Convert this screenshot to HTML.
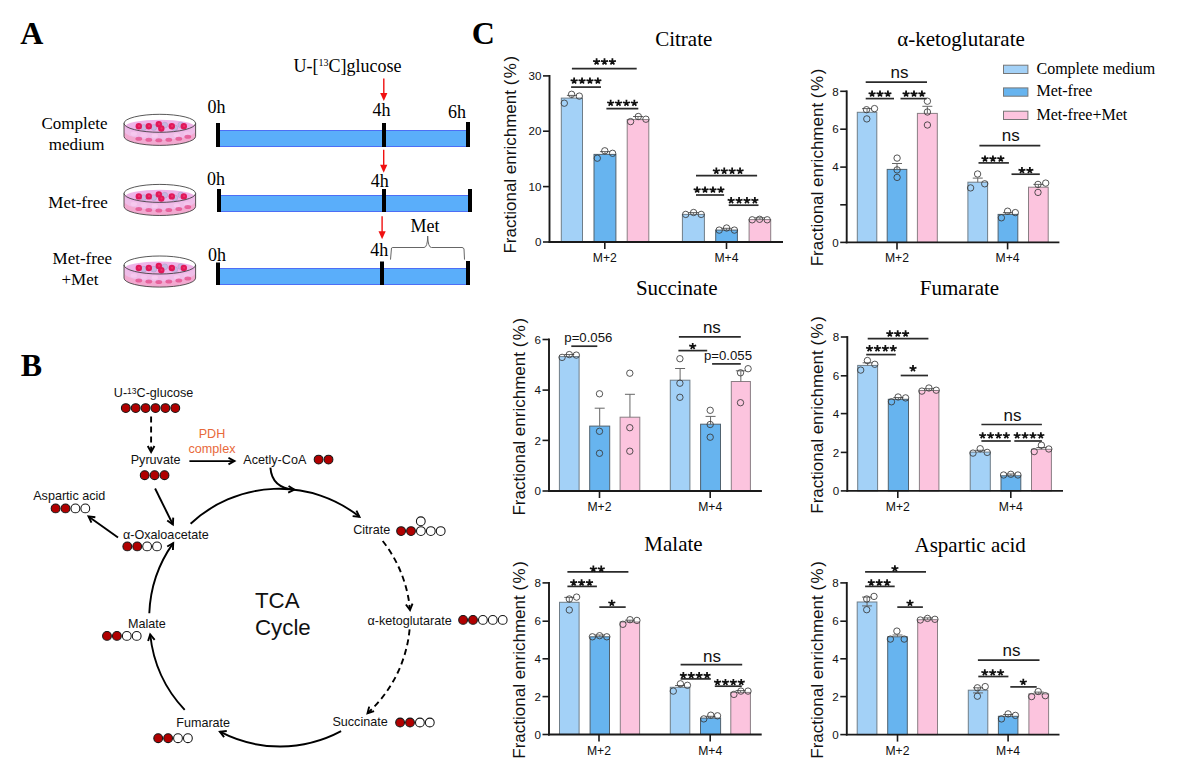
<!DOCTYPE html>
<html><head><meta charset="utf-8"><style>
html,body{margin:0;padding:0;background:#fff;}
body{width:1186px;height:783px;overflow:hidden;}
svg{display:block;}
</style></head><body>
<svg width="1186" height="783" viewBox="0 0 1186 783">
<rect width="1186" height="783" fill="#fff"/>
<text x="20.30" y="44.00" font-family="Liberation Serif" font-size="32" text-anchor="start" fill="#000" font-weight="bold">A</text>
<text x="20.80" y="375.80" font-family="Liberation Serif" font-size="32" text-anchor="start" fill="#000" font-weight="bold">B</text>
<text x="471.80" y="44.00" font-family="Liberation Serif" font-size="32" text-anchor="start" fill="#000" font-weight="bold">C</text>
<rect x="220" y="130" width="246" height="17" fill="#5aaefa"/>
<line x1="220" y1="130.5" x2="466" y2="130.5" stroke="#4d6ef5" stroke-width="1"/>
<line x1="220" y1="146.5" x2="466" y2="146.5" stroke="#4d6ef5" stroke-width="1"/>
<rect x="216" y="123" width="4" height="24" fill="#000"/>
<rect x="382" y="123" width="4" height="24" fill="#000"/>
<rect x="466" y="122" width="4" height="25" fill="#000"/>
<rect x="221" y="195" width="247" height="17" fill="#5aaefa"/>
<line x1="221" y1="195.5" x2="468" y2="195.5" stroke="#4d6ef5" stroke-width="1"/>
<line x1="221" y1="211.5" x2="468" y2="211.5" stroke="#4d6ef5" stroke-width="1"/>
<rect x="217" y="189" width="4" height="23" fill="#000"/>
<rect x="382" y="189" width="4" height="23" fill="#000"/>
<rect x="468" y="189" width="4" height="23" fill="#000"/>
<rect x="220" y="268" width="246" height="17" fill="#5aaefa"/>
<line x1="220" y1="268.5" x2="466" y2="268.5" stroke="#4d6ef5" stroke-width="1"/>
<line x1="220" y1="284.5" x2="466" y2="284.5" stroke="#4d6ef5" stroke-width="1"/>
<rect x="216" y="262.5" width="4" height="22.5" fill="#000"/>
<rect x="380" y="261.5" width="4" height="23.5" fill="#000"/>
<rect x="466" y="261" width="4" height="24" fill="#000"/>
<text x="207.50" y="112.60" font-family="Liberation Serif" font-size="18" text-anchor="start" fill="#000" >0h</text>
<text x="372.50" y="116.40" font-family="Liberation Serif" font-size="18" text-anchor="start" fill="#000" >4h</text>
<text x="448.00" y="118.40" font-family="Liberation Serif" font-size="18" text-anchor="start" fill="#000" >6h</text>
<text x="207.00" y="184.80" font-family="Liberation Serif" font-size="18" text-anchor="start" fill="#000" >0h</text>
<text x="370.70" y="186.80" font-family="Liberation Serif" font-size="18" text-anchor="start" fill="#000" >4h</text>
<text x="208.00" y="261.30" font-family="Liberation Serif" font-size="18" text-anchor="start" fill="#000" >0h</text>
<text x="370.20" y="255.70" font-family="Liberation Serif" font-size="18" text-anchor="start" fill="#000" >4h</text>
<text x="410.50" y="232.20" font-family="Liberation Serif" font-size="18" text-anchor="start" fill="#000" >Met</text>
<text x="293.5" y="71.7" font-family="Liberation Serif" font-size="18">U-[<tspan font-size="10" dy="-6">13</tspan><tspan dy="6">C]glucose</tspan></text>
<line x1="383.8" y1="78.4" x2="383.8" y2="95.1" stroke="#f01010" stroke-width="1.4"/>
<path d="M380.2,93.1 L387.40000000000003,93.1 L383.8,101.1 Z" fill="#f01010"/>
<line x1="383.7" y1="149.8" x2="383.7" y2="166.8" stroke="#f01010" stroke-width="1.4"/>
<path d="M380.09999999999997,164.8 L387.3,164.8 L383.7,172.8 Z" fill="#f01010"/>
<line x1="382.1" y1="216.3" x2="382.1" y2="233.3" stroke="#f01010" stroke-width="1.4"/>
<path d="M378.5,231.3 L385.70000000000005,231.3 L382.1,239.3 Z" fill="#f01010"/>
<path d="M390.5,259.6 L391.5,248 Q392,247.5 393,247.5 L424,247.5 Q427.5,247.5 427.7,236 Q428,247.5 431.5,247.5 L462,247.5 Q463.5,247.5 464,249 L464.5,259.6" fill="none" stroke="#666" stroke-width="1"/>
<text x="74.60" y="129.40" font-family="Liberation Serif" font-size="17" text-anchor="middle" fill="#000" >Complete</text>
<text x="76.60" y="149.70" font-family="Liberation Serif" font-size="17" text-anchor="middle" fill="#000" >medium</text>
<text x="78.00" y="208.40" font-family="Liberation Serif" font-size="17" text-anchor="middle" fill="#000" >Met-free</text>
<text x="82.30" y="264.00" font-family="Liberation Serif" font-size="17" text-anchor="middle" fill="#000" >Met-free</text>
<text x="80.00" y="284.80" font-family="Liberation Serif" font-size="17" text-anchor="middle" fill="#000" >+Met</text>
<path d="M124.00000000000001,125.3 L124.00000000000001,136.4 A35.8,9 0 0 0 195.60000000000002,136.4 L195.60000000000002,125.3 Z" fill="#f2a9d0"/>
<path d="M124.50000000000001,126.3 L124.50000000000001,132.3 A35.8,9 0 0 0 195.10000000000002,132.3 L195.10000000000002,126.3 Z" fill="#efbde8"/>
<ellipse cx="159.8" cy="126.5" rx="34.8" ry="6.8" fill="#eeb4e8"/>
<ellipse cx="133.8" cy="133.8" rx="3.2" ry="2" fill="#f6c8ee"/>
<ellipse cx="143.8" cy="135.3" rx="3.2" ry="2" fill="#f4c4ec"/>
<ellipse cx="154.8" cy="135.8" rx="3.2" ry="2" fill="#f6caee"/>
<ellipse cx="165.8" cy="135.8" rx="3.2" ry="2" fill="#f2c0ea"/>
<ellipse cx="176.8" cy="135.3" rx="3.2" ry="2" fill="#f6c8ee"/>
<ellipse cx="186.8" cy="133.8" rx="3.2" ry="2" fill="#f4c4ec"/>
<ellipse cx="138.8" cy="138.8" rx="3.4" ry="2.0" fill="#e4508f" opacity="0.8"/>
<ellipse cx="148.8" cy="139.8" rx="3.4" ry="2.0" fill="#e4508f" opacity="0.8"/>
<ellipse cx="158.8" cy="140.3" rx="3.4" ry="2.0" fill="#e4508f" opacity="0.8"/>
<ellipse cx="168.8" cy="139.8" rx="3.4" ry="2.0" fill="#e4508f" opacity="0.8"/>
<ellipse cx="178.8" cy="138.8" rx="3.4" ry="2.0" fill="#e4508f" opacity="0.8"/>
<ellipse cx="187.8" cy="136.8" rx="3.4" ry="2.0" fill="#e4508f" opacity="0.8"/>
<circle cx="143.8" cy="127.5" r="2.9" fill="#c6b6e0" stroke="#a898c8" stroke-width="0.5"/>
<circle cx="153.8" cy="127.5" r="2.9" fill="#c6b6e0" stroke="#a898c8" stroke-width="0.5"/>
<circle cx="164.8" cy="125.1" r="2.9" fill="#c6b6e0" stroke="#a898c8" stroke-width="0.5"/>
<circle cx="174.8" cy="127.89999999999999" r="2.9" fill="#c6b6e0" stroke="#a898c8" stroke-width="0.5"/>
<circle cx="180.8" cy="124.89999999999999" r="2.9" fill="#c6b6e0" stroke="#a898c8" stroke-width="0.5"/>
<circle cx="138.8" cy="126.3" r="3.2" fill="#e0185a"/>
<circle cx="139.10000000000002" cy="126.1" r="1.1" fill="#f0306a"/>
<circle cx="148.8" cy="126.3" r="3.2" fill="#e0185a"/>
<circle cx="149.10000000000002" cy="126.1" r="1.1" fill="#f0306a"/>
<circle cx="158.8" cy="124.3" r="3.2" fill="#e0185a"/>
<circle cx="159.10000000000002" cy="124.1" r="1.1" fill="#f0306a"/>
<circle cx="161.3" cy="128.5" r="3.2" fill="#e0185a"/>
<circle cx="161.60000000000002" cy="128.3" r="1.1" fill="#f0306a"/>
<circle cx="171.8" cy="126.3" r="3.2" fill="#e0185a"/>
<circle cx="172.10000000000002" cy="126.1" r="1.1" fill="#f0306a"/>
<circle cx="183.8" cy="126.3" r="3.2" fill="#e0185a"/>
<circle cx="184.10000000000002" cy="126.1" r="1.1" fill="#f0306a"/>
<ellipse cx="159.8" cy="123.3" rx="35.8" ry="9" fill="none" stroke="#3a3a3a" stroke-width="0.85"/>
<path d="M124.00000000000001,123.3 L124.00000000000001,136.4 A35.8,9 0 0 0 195.60000000000002,136.4 L195.60000000000002,123.3" fill="none" stroke="#3a3a3a" stroke-width="0.85"/>
<path d="M124.00000000000001,195.4 L124.00000000000001,206.5 A35.8,9 0 0 0 195.60000000000002,206.5 L195.60000000000002,195.4 Z" fill="#f2a9d0"/>
<path d="M124.50000000000001,196.4 L124.50000000000001,202.4 A35.8,9 0 0 0 195.10000000000002,202.4 L195.10000000000002,196.4 Z" fill="#efbde8"/>
<ellipse cx="159.8" cy="196.6" rx="34.8" ry="6.8" fill="#eeb4e8"/>
<ellipse cx="133.8" cy="203.9" rx="3.2" ry="2" fill="#f6c8ee"/>
<ellipse cx="143.8" cy="205.4" rx="3.2" ry="2" fill="#f4c4ec"/>
<ellipse cx="154.8" cy="205.9" rx="3.2" ry="2" fill="#f6caee"/>
<ellipse cx="165.8" cy="205.9" rx="3.2" ry="2" fill="#f2c0ea"/>
<ellipse cx="176.8" cy="205.4" rx="3.2" ry="2" fill="#f6c8ee"/>
<ellipse cx="186.8" cy="203.9" rx="3.2" ry="2" fill="#f4c4ec"/>
<ellipse cx="138.8" cy="208.9" rx="3.4" ry="2.0" fill="#e4508f" opacity="0.8"/>
<ellipse cx="148.8" cy="209.9" rx="3.4" ry="2.0" fill="#e4508f" opacity="0.8"/>
<ellipse cx="158.8" cy="210.4" rx="3.4" ry="2.0" fill="#e4508f" opacity="0.8"/>
<ellipse cx="168.8" cy="209.9" rx="3.4" ry="2.0" fill="#e4508f" opacity="0.8"/>
<ellipse cx="178.8" cy="208.9" rx="3.4" ry="2.0" fill="#e4508f" opacity="0.8"/>
<ellipse cx="187.8" cy="206.9" rx="3.4" ry="2.0" fill="#e4508f" opacity="0.8"/>
<circle cx="143.8" cy="197.6" r="2.9" fill="#c6b6e0" stroke="#a898c8" stroke-width="0.5"/>
<circle cx="153.8" cy="197.6" r="2.9" fill="#c6b6e0" stroke="#a898c8" stroke-width="0.5"/>
<circle cx="164.8" cy="195.20000000000002" r="2.9" fill="#c6b6e0" stroke="#a898c8" stroke-width="0.5"/>
<circle cx="174.8" cy="198.0" r="2.9" fill="#c6b6e0" stroke="#a898c8" stroke-width="0.5"/>
<circle cx="180.8" cy="195.0" r="2.9" fill="#c6b6e0" stroke="#a898c8" stroke-width="0.5"/>
<circle cx="138.8" cy="196.4" r="3.2" fill="#e0185a"/>
<circle cx="139.10000000000002" cy="196.20000000000002" r="1.1" fill="#f0306a"/>
<circle cx="148.8" cy="196.4" r="3.2" fill="#e0185a"/>
<circle cx="149.10000000000002" cy="196.20000000000002" r="1.1" fill="#f0306a"/>
<circle cx="158.8" cy="194.4" r="3.2" fill="#e0185a"/>
<circle cx="159.10000000000002" cy="194.20000000000002" r="1.1" fill="#f0306a"/>
<circle cx="161.3" cy="198.6" r="3.2" fill="#e0185a"/>
<circle cx="161.60000000000002" cy="198.4" r="1.1" fill="#f0306a"/>
<circle cx="171.8" cy="196.4" r="3.2" fill="#e0185a"/>
<circle cx="172.10000000000002" cy="196.20000000000002" r="1.1" fill="#f0306a"/>
<circle cx="183.8" cy="196.4" r="3.2" fill="#e0185a"/>
<circle cx="184.10000000000002" cy="196.20000000000002" r="1.1" fill="#f0306a"/>
<ellipse cx="159.8" cy="193.4" rx="35.8" ry="9" fill="none" stroke="#3a3a3a" stroke-width="0.85"/>
<path d="M124.00000000000001,193.4 L124.00000000000001,206.5 A35.8,9 0 0 0 195.60000000000002,206.5 L195.60000000000002,193.4" fill="none" stroke="#3a3a3a" stroke-width="0.85"/>
<path d="M124.00000000000001,267.0 L124.00000000000001,278.1 A35.8,9 0 0 0 195.60000000000002,278.1 L195.60000000000002,267.0 Z" fill="#f2a9d0"/>
<path d="M124.50000000000001,268.0 L124.50000000000001,274.0 A35.8,9 0 0 0 195.10000000000002,274.0 L195.10000000000002,268.0 Z" fill="#efbde8"/>
<ellipse cx="159.8" cy="268.2" rx="34.8" ry="6.8" fill="#eeb4e8"/>
<ellipse cx="133.8" cy="275.5" rx="3.2" ry="2" fill="#f6c8ee"/>
<ellipse cx="143.8" cy="277.0" rx="3.2" ry="2" fill="#f4c4ec"/>
<ellipse cx="154.8" cy="277.5" rx="3.2" ry="2" fill="#f6caee"/>
<ellipse cx="165.8" cy="277.5" rx="3.2" ry="2" fill="#f2c0ea"/>
<ellipse cx="176.8" cy="277.0" rx="3.2" ry="2" fill="#f6c8ee"/>
<ellipse cx="186.8" cy="275.5" rx="3.2" ry="2" fill="#f4c4ec"/>
<ellipse cx="138.8" cy="280.5" rx="3.4" ry="2.0" fill="#e4508f" opacity="0.8"/>
<ellipse cx="148.8" cy="281.5" rx="3.4" ry="2.0" fill="#e4508f" opacity="0.8"/>
<ellipse cx="158.8" cy="282.0" rx="3.4" ry="2.0" fill="#e4508f" opacity="0.8"/>
<ellipse cx="168.8" cy="281.5" rx="3.4" ry="2.0" fill="#e4508f" opacity="0.8"/>
<ellipse cx="178.8" cy="280.5" rx="3.4" ry="2.0" fill="#e4508f" opacity="0.8"/>
<ellipse cx="187.8" cy="278.5" rx="3.4" ry="2.0" fill="#e4508f" opacity="0.8"/>
<circle cx="143.8" cy="269.2" r="2.9" fill="#c6b6e0" stroke="#a898c8" stroke-width="0.5"/>
<circle cx="153.8" cy="269.2" r="2.9" fill="#c6b6e0" stroke="#a898c8" stroke-width="0.5"/>
<circle cx="164.8" cy="266.8" r="2.9" fill="#c6b6e0" stroke="#a898c8" stroke-width="0.5"/>
<circle cx="174.8" cy="269.6" r="2.9" fill="#c6b6e0" stroke="#a898c8" stroke-width="0.5"/>
<circle cx="180.8" cy="266.6" r="2.9" fill="#c6b6e0" stroke="#a898c8" stroke-width="0.5"/>
<circle cx="138.8" cy="268.0" r="3.2" fill="#e0185a"/>
<circle cx="139.10000000000002" cy="267.8" r="1.1" fill="#f0306a"/>
<circle cx="148.8" cy="268.0" r="3.2" fill="#e0185a"/>
<circle cx="149.10000000000002" cy="267.8" r="1.1" fill="#f0306a"/>
<circle cx="158.8" cy="266.0" r="3.2" fill="#e0185a"/>
<circle cx="159.10000000000002" cy="265.8" r="1.1" fill="#f0306a"/>
<circle cx="161.3" cy="270.2" r="3.2" fill="#e0185a"/>
<circle cx="161.60000000000002" cy="270.0" r="1.1" fill="#f0306a"/>
<circle cx="171.8" cy="268.0" r="3.2" fill="#e0185a"/>
<circle cx="172.10000000000002" cy="267.8" r="1.1" fill="#f0306a"/>
<circle cx="183.8" cy="268.0" r="3.2" fill="#e0185a"/>
<circle cx="184.10000000000002" cy="267.8" r="1.1" fill="#f0306a"/>
<ellipse cx="159.8" cy="265.0" rx="35.8" ry="9" fill="none" stroke="#3a3a3a" stroke-width="0.85"/>
<path d="M124.00000000000001,265.0 L124.00000000000001,278.1 A35.8,9 0 0 0 195.60000000000002,278.1 L195.60000000000002,265.0" fill="none" stroke="#3a3a3a" stroke-width="0.85"/>
<text x="113.8" y="397.2" font-family="Liberation Sans" font-size="12.6" fill="#111">U-<tspan font-size="8.5" dy="-3.5">13</tspan><tspan dy="3.5">C-glucose</tspan></text>
<circle cx="125.80" cy="408.1" r="4.4" fill="#b00000" stroke="#151515" stroke-width="1.05"/>
<circle cx="135.70" cy="408.1" r="4.4" fill="#b00000" stroke="#151515" stroke-width="1.05"/>
<circle cx="145.60" cy="408.1" r="4.4" fill="#b00000" stroke="#151515" stroke-width="1.05"/>
<circle cx="155.50" cy="408.1" r="4.4" fill="#b00000" stroke="#151515" stroke-width="1.05"/>
<circle cx="165.40" cy="408.1" r="4.4" fill="#b00000" stroke="#151515" stroke-width="1.05"/>
<circle cx="175.30" cy="408.1" r="4.4" fill="#b00000" stroke="#151515" stroke-width="1.05"/>
<text x="130.70" y="464.30" font-family="Liberation Sans" font-size="12.6" text-anchor="start" fill="#111" >Pyruvate</text>
<circle cx="144.70" cy="475.2" r="4.4" fill="#b00000" stroke="#151515" stroke-width="1.05"/>
<circle cx="154.60" cy="475.2" r="4.4" fill="#b00000" stroke="#151515" stroke-width="1.05"/>
<circle cx="164.50" cy="475.2" r="4.4" fill="#b00000" stroke="#151515" stroke-width="1.05"/>
<text x="212.00" y="437.50" font-family="Liberation Sans" font-size="12.6" text-anchor="middle" fill="#e8693a" >PDH</text>
<text x="212.00" y="452.80" font-family="Liberation Sans" font-size="12.6" text-anchor="middle" fill="#e8693a" >complex</text>
<text x="243.30" y="463.50" font-family="Liberation Sans" font-size="12.6" text-anchor="start" fill="#111" >Acetly-CoA</text>
<circle cx="318.60" cy="459.6" r="4.4" fill="#b00000" stroke="#151515" stroke-width="1.05"/>
<circle cx="328.50" cy="459.6" r="4.4" fill="#b00000" stroke="#151515" stroke-width="1.05"/>
<text x="353.20" y="534.30" font-family="Liberation Sans" font-size="12.6" text-anchor="start" fill="#111" >Citrate</text>
<circle cx="401.10" cy="531.1" r="4.4" fill="#b00000" stroke="#151515" stroke-width="1.05"/>
<circle cx="411.00" cy="531.1" r="4.4" fill="#b00000" stroke="#151515" stroke-width="1.05"/>
<circle cx="420.90" cy="531.1" r="4.4" fill="#fff" stroke="#151515" stroke-width="1.05"/>
<circle cx="430.80" cy="531.1" r="4.4" fill="#fff" stroke="#151515" stroke-width="1.05"/>
<circle cx="440.70" cy="531.1" r="4.4" fill="#fff" stroke="#151515" stroke-width="1.05"/>
<circle cx="420.8" cy="521.3" r="4.4" fill="#fff" stroke="#151515" stroke-width="1.05"/>
<text x="367.50" y="624.80" font-family="Liberation Sans" font-size="12.6" text-anchor="start" fill="#111" >α-ketoglutarate</text>
<circle cx="463.10" cy="619.9" r="4.4" fill="#b00000" stroke="#151515" stroke-width="1.05"/>
<circle cx="473.00" cy="619.9" r="4.4" fill="#b00000" stroke="#151515" stroke-width="1.05"/>
<circle cx="482.90" cy="619.9" r="4.4" fill="#fff" stroke="#151515" stroke-width="1.05"/>
<circle cx="492.80" cy="619.9" r="4.4" fill="#fff" stroke="#151515" stroke-width="1.05"/>
<circle cx="502.70" cy="619.9" r="4.4" fill="#fff" stroke="#151515" stroke-width="1.05"/>
<text x="332.40" y="726.40" font-family="Liberation Sans" font-size="12.6" text-anchor="start" fill="#111" >Succinate</text>
<circle cx="400.10" cy="722.5" r="4.4" fill="#b00000" stroke="#151515" stroke-width="1.05"/>
<circle cx="410.00" cy="722.5" r="4.4" fill="#b00000" stroke="#151515" stroke-width="1.05"/>
<circle cx="419.90" cy="722.5" r="4.4" fill="#fff" stroke="#151515" stroke-width="1.05"/>
<circle cx="429.80" cy="722.5" r="4.4" fill="#fff" stroke="#151515" stroke-width="1.05"/>
<text x="176.20" y="727.10" font-family="Liberation Sans" font-size="12.6" text-anchor="start" fill="#111" >Fumarate</text>
<circle cx="158.20" cy="738.2" r="4.4" fill="#b00000" stroke="#151515" stroke-width="1.05"/>
<circle cx="168.10" cy="738.2" r="4.4" fill="#b00000" stroke="#151515" stroke-width="1.05"/>
<circle cx="178.00" cy="738.2" r="4.4" fill="#fff" stroke="#151515" stroke-width="1.05"/>
<circle cx="187.90" cy="738.2" r="4.4" fill="#fff" stroke="#151515" stroke-width="1.05"/>
<text x="127.90" y="627.80" font-family="Liberation Sans" font-size="12.6" text-anchor="start" fill="#111" >Malate</text>
<circle cx="107.00" cy="635.9" r="4.4" fill="#b00000" stroke="#151515" stroke-width="1.05"/>
<circle cx="116.90" cy="635.9" r="4.4" fill="#b00000" stroke="#151515" stroke-width="1.05"/>
<circle cx="126.80" cy="635.9" r="4.4" fill="#fff" stroke="#151515" stroke-width="1.05"/>
<circle cx="136.70" cy="635.9" r="4.4" fill="#fff" stroke="#151515" stroke-width="1.05"/>
<text x="123.00" y="538.50" font-family="Liberation Sans" font-size="12.6" text-anchor="start" fill="#111" >α-Oxaloacetate</text>
<circle cx="127.30" cy="546.4" r="4.4" fill="#b00000" stroke="#151515" stroke-width="1.05"/>
<circle cx="137.20" cy="546.4" r="4.4" fill="#b00000" stroke="#151515" stroke-width="1.05"/>
<circle cx="147.10" cy="546.4" r="4.4" fill="#fff" stroke="#151515" stroke-width="1.05"/>
<circle cx="157.00" cy="546.4" r="4.4" fill="#fff" stroke="#151515" stroke-width="1.05"/>
<text x="33.20" y="500.00" font-family="Liberation Sans" font-size="12.6" text-anchor="start" fill="#111" >Aspartic acid</text>
<circle cx="55.60" cy="508.4" r="4.4" fill="#b00000" stroke="#151515" stroke-width="1.05"/>
<circle cx="65.50" cy="508.4" r="4.4" fill="#b00000" stroke="#151515" stroke-width="1.05"/>
<circle cx="75.40" cy="508.4" r="4.4" fill="#fff" stroke="#151515" stroke-width="1.05"/>
<circle cx="85.30" cy="508.4" r="4.4" fill="#fff" stroke="#151515" stroke-width="1.05"/>
<text x="255.00" y="607.60" font-family="Liberation Sans" font-size="22.3" text-anchor="start" fill="#111" >TCA</text>
<text x="255.00" y="634.70" font-family="Liberation Sans" font-size="22.3" text-anchor="start" fill="#111" >Cycle</text>
<line x1="151.1" y1="416.4" x2="151.1" y2="452.0" stroke="#000" stroke-width="1.9" stroke-dasharray="6,4"/>
<path d="M147.75,445.97 L151.10,452.00 L154.45,445.97" fill="none" stroke="#000" stroke-width="1.9" stroke-linejoin="miter"/>
<line x1="189.4" y1="461.1" x2="234.5" y2="461.1" stroke="#000" stroke-width="1.9"/>
<path d="M228.47,464.45 L234.50,461.10 L228.47,457.75" fill="none" stroke="#000" stroke-width="1.9" stroke-linejoin="miter"/>
<line x1="155.1" y1="488.5" x2="172.9" y2="524.5" stroke="#000" stroke-width="1.9"/>
<path d="M167.23,520.57 L172.90,524.50 L173.22,517.61" fill="none" stroke="#000" stroke-width="1.9" stroke-linejoin="miter"/>
<line x1="118" y1="537.5" x2="88.5" y2="516.4" stroke="#000" stroke-width="1.9"/>
<path d="M95.35,517.19 L88.50,516.40 L91.46,522.63" fill="none" stroke="#000" stroke-width="1.9" stroke-linejoin="miter"/>
<path d="M190.60,523.70 A129.6,129.6 0 0 1 359.50,516.80" fill="none" stroke="#000" stroke-width="1.9"/>
<path d="M352.63,516.15 L359.50,516.80 L356.41,510.63" fill="none" stroke="#000" stroke-width="1.9" stroke-linejoin="miter"/>
<path d="M382.70,541.00 A129.6,129.6 0 0 1 410.00,610.00" fill="none" stroke="#000" stroke-width="1.9" stroke-dasharray="6,4"/>
<path d="M405.89,604.46 L410.00,610.00 L412.52,603.58" fill="none" stroke="#000" stroke-width="1.9" stroke-linejoin="miter"/>
<path d="M409.60,629.40 A129.6,129.6 0 0 1 367.50,713.30" fill="none" stroke="#000" stroke-width="1.9" stroke-dasharray="6,4"/>
<path d="M369.18,706.61 L367.50,713.30 L374.07,711.18" fill="none" stroke="#000" stroke-width="1.9" stroke-linejoin="miter"/>
<path d="M341.10,731.20 A129.6,129.6 0 0 1 219.90,731.70" fill="none" stroke="#000" stroke-width="1.9"/>
<path d="M226.77,731.04 L219.90,731.70 L224.10,737.18" fill="none" stroke="#000" stroke-width="1.9" stroke-linejoin="miter"/>
<path d="M184.70,709.90 A129.6,129.6 0 0 1 150.20,634.50" fill="none" stroke="#000" stroke-width="1.9"/>
<path d="M154.66,639.77 L150.20,634.50 L148.10,641.07" fill="none" stroke="#000" stroke-width="1.9" stroke-linejoin="miter"/>
<path d="M149.30,613.30 A129.6,129.6 0 0 1 173.20,543.10" fill="none" stroke="#000" stroke-width="1.9"/>
<path d="M172.92,549.99 L173.20,543.10 L167.21,546.52" fill="none" stroke="#000" stroke-width="1.9" stroke-linejoin="miter"/>
<path d="M270.4,467.6 Q272,488 294,489.5" fill="none" stroke="#000" stroke-width="1.9"/>
<path d="M288.20,492.62 L294.40,489.60 L288.55,485.94" fill="none" stroke="#000" stroke-width="1.9" stroke-linejoin="miter"/>
<rect x="561.30" y="98.10" width="21.20" height="143.90" fill="#a3d1f7" stroke="#6f7d88" stroke-width="1"/>
<rect x="594.00" y="154.40" width="21.90" height="87.60" fill="#67b4ef" stroke="#50626f" stroke-width="1"/>
<rect x="627.20" y="119.60" width="21.60" height="122.40" fill="#fcc4de" stroke="#8a7e84" stroke-width="1"/>
<rect x="682.40" y="214.40" width="22.00" height="27.60" fill="#a3d1f7" stroke="#6f7d88" stroke-width="1"/>
<rect x="715.70" y="230.10" width="21.70" height="11.90" fill="#67b4ef" stroke="#50626f" stroke-width="1"/>
<rect x="749.10" y="219.60" width="21.60" height="22.40" fill="#fcc4de" stroke="#8a7e84" stroke-width="1"/>
<line x1="571.90" y1="98.10" x2="571.90" y2="95.40" stroke="#666" stroke-width="1"/>
<line x1="566.90" y1="95.40" x2="576.90" y2="95.40" stroke="#666" stroke-width="1"/>
<line x1="604.95" y1="154.40" x2="604.95" y2="151.60" stroke="#666" stroke-width="1"/>
<line x1="599.95" y1="151.60" x2="609.95" y2="151.60" stroke="#666" stroke-width="1"/>
<line x1="638.00" y1="119.60" x2="638.00" y2="116.50" stroke="#666" stroke-width="1"/>
<line x1="633.00" y1="116.50" x2="643.00" y2="116.50" stroke="#666" stroke-width="1"/>
<line x1="693.40" y1="214.40" x2="693.40" y2="212.60" stroke="#666" stroke-width="1"/>
<line x1="688.40" y1="212.60" x2="698.40" y2="212.60" stroke="#666" stroke-width="1"/>
<line x1="726.55" y1="230.10" x2="726.55" y2="228.30" stroke="#666" stroke-width="1"/>
<line x1="721.55" y1="228.30" x2="731.55" y2="228.30" stroke="#666" stroke-width="1"/>
<line x1="759.90" y1="219.60" x2="759.90" y2="217.80" stroke="#666" stroke-width="1"/>
<line x1="754.90" y1="217.80" x2="764.90" y2="217.80" stroke="#666" stroke-width="1"/>
<circle cx="564.30" cy="103.20" r="3.2" fill="none" stroke="#383838" stroke-width="0.85"/>
<circle cx="571.60" cy="94.30" r="3.2" fill="none" stroke="#383838" stroke-width="0.85"/>
<circle cx="579.30" cy="96.10" r="3.2" fill="none" stroke="#383838" stroke-width="0.85"/>
<circle cx="597.30" cy="158.20" r="3.2" fill="none" stroke="#383838" stroke-width="0.85"/>
<circle cx="604.80" cy="150.80" r="3.2" fill="none" stroke="#383838" stroke-width="0.85"/>
<circle cx="612.60" cy="153.30" r="3.2" fill="none" stroke="#383838" stroke-width="0.85"/>
<circle cx="630.60" cy="121.60" r="3.2" fill="none" stroke="#383838" stroke-width="0.85"/>
<circle cx="638.30" cy="116.50" r="3.2" fill="none" stroke="#383838" stroke-width="0.85"/>
<circle cx="645.90" cy="119.20" r="3.2" fill="none" stroke="#383838" stroke-width="0.85"/>
<circle cx="685.70" cy="214.40" r="3.2" fill="none" stroke="#383838" stroke-width="0.85"/>
<circle cx="693.60" cy="212.50" r="3.2" fill="none" stroke="#383838" stroke-width="0.85"/>
<circle cx="701.20" cy="214.40" r="3.2" fill="none" stroke="#383838" stroke-width="0.85"/>
<circle cx="719.20" cy="230.10" r="3.2" fill="none" stroke="#383838" stroke-width="0.85"/>
<circle cx="726.60" cy="228.00" r="3.2" fill="none" stroke="#383838" stroke-width="0.85"/>
<circle cx="734.40" cy="230.10" r="3.2" fill="none" stroke="#383838" stroke-width="0.85"/>
<circle cx="752.20" cy="219.80" r="3.2" fill="none" stroke="#383838" stroke-width="0.85"/>
<circle cx="759.60" cy="219.30" r="3.2" fill="none" stroke="#383838" stroke-width="0.85"/>
<circle cx="767.20" cy="219.80" r="3.2" fill="none" stroke="#383838" stroke-width="0.85"/>
<line x1="549.50" y1="75.00" x2="549.50" y2="242.90" stroke="#1a1a1a" stroke-width="1.9"/>
<line x1="548.60" y1="242.00" x2="783.00" y2="242.00" stroke="#1a1a1a" stroke-width="1.9"/>
<line x1="543.00" y1="242.00" x2="549.50" y2="242.00" stroke="#1a1a1a" stroke-width="1.6"/>
<text x="541.50" y="246.20" font-family="Liberation Sans" font-size="11.6" text-anchor="end" fill="#111" >0</text>
<line x1="543.00" y1="186.60" x2="549.50" y2="186.60" stroke="#1a1a1a" stroke-width="1.6"/>
<text x="541.50" y="190.80" font-family="Liberation Sans" font-size="11.6" text-anchor="end" fill="#111" >10</text>
<line x1="543.00" y1="131.20" x2="549.50" y2="131.20" stroke="#1a1a1a" stroke-width="1.6"/>
<text x="541.50" y="135.40" font-family="Liberation Sans" font-size="11.6" text-anchor="end" fill="#111" >20</text>
<line x1="543.00" y1="75.90" x2="549.50" y2="75.90" stroke="#1a1a1a" stroke-width="1.6"/>
<text x="541.50" y="80.10" font-family="Liberation Sans" font-size="11.6" text-anchor="end" fill="#111" >30</text>
<line x1="604.80" y1="242.00" x2="604.80" y2="249.00" stroke="#1a1a1a" stroke-width="1.6"/>
<text x="604.80" y="262.00" font-family="Liberation Sans" font-size="12.2" text-anchor="middle" fill="#111" >M+2</text>
<line x1="726.50" y1="242.00" x2="726.50" y2="249.00" stroke="#1a1a1a" stroke-width="1.6"/>
<text x="726.50" y="262.00" font-family="Liberation Sans" font-size="12.2" text-anchor="middle" fill="#111" >M+4</text>
<line x1="571.90" y1="68.60" x2="636.70" y2="68.60" stroke="#2a2a2a" stroke-width="1.7"/>
<path d="M596.60,61.70 L596.60,58.30 M596.60,61.70 L600.09,60.83 M596.60,61.70 L593.11,60.83 M596.60,61.70 L598.49,64.40 M596.60,61.70 L594.71,64.40 M604.50,61.70 L604.50,58.30 M604.50,61.70 L607.99,60.83 M604.50,61.70 L601.01,60.83 M604.50,61.70 L606.39,64.40 M604.50,61.70 L602.61,64.40 M612.40,61.70 L612.40,58.30 M612.40,61.70 L615.89,60.83 M612.40,61.70 L608.91,60.83 M612.40,61.70 L614.29,64.40 M612.40,61.70 L610.51,64.40" stroke="#111" stroke-width="1.75" fill="none"/>
<line x1="571.10" y1="87.10" x2="601.00" y2="87.10" stroke="#2a2a2a" stroke-width="1.7"/>
<path d="M574.15,80.90 L574.15,77.50 M574.15,80.90 L577.64,80.03 M574.15,80.90 L570.66,80.03 M574.15,80.90 L576.04,83.60 M574.15,80.90 L572.26,83.60 M582.05,80.90 L582.05,77.50 M582.05,80.90 L585.54,80.03 M582.05,80.90 L578.56,80.03 M582.05,80.90 L583.94,83.60 M582.05,80.90 L580.16,83.60 M589.95,80.90 L589.95,77.50 M589.95,80.90 L593.44,80.03 M589.95,80.90 L586.46,80.03 M589.95,80.90 L591.84,83.60 M589.95,80.90 L588.06,83.60 M597.85,80.90 L597.85,77.50 M597.85,80.90 L601.34,80.03 M597.85,80.90 L594.36,80.03 M597.85,80.90 L599.74,83.60 M597.85,80.90 L595.96,83.60" stroke="#111" stroke-width="1.75" fill="none"/>
<line x1="606.40" y1="108.60" x2="638.30" y2="108.60" stroke="#2a2a2a" stroke-width="1.7"/>
<path d="M610.65,103.10 L610.65,99.70 M610.65,103.10 L614.14,102.23 M610.65,103.10 L607.16,102.23 M610.65,103.10 L612.54,105.80 M610.65,103.10 L608.76,105.80 M618.55,103.10 L618.55,99.70 M618.55,103.10 L622.04,102.23 M618.55,103.10 L615.06,102.23 M618.55,103.10 L620.44,105.80 M618.55,103.10 L616.66,105.80 M626.45,103.10 L626.45,99.70 M626.45,103.10 L629.94,102.23 M626.45,103.10 L622.96,102.23 M626.45,103.10 L628.34,105.80 M626.45,103.10 L624.56,105.80 M634.35,103.10 L634.35,99.70 M634.35,103.10 L637.84,102.23 M634.35,103.10 L630.86,102.23 M634.35,103.10 L636.24,105.80 M634.35,103.10 L632.46,105.80" stroke="#111" stroke-width="1.75" fill="none"/>
<line x1="696.00" y1="175.70" x2="757.10" y2="175.70" stroke="#2a2a2a" stroke-width="1.7"/>
<path d="M716.35,171.00 L716.35,167.60 M716.35,171.00 L719.84,170.13 M716.35,171.00 L712.86,170.13 M716.35,171.00 L718.24,173.70 M716.35,171.00 L714.46,173.70 M724.25,171.00 L724.25,167.60 M724.25,171.00 L727.74,170.13 M724.25,171.00 L720.76,170.13 M724.25,171.00 L726.14,173.70 M724.25,171.00 L722.36,173.70 M732.15,171.00 L732.15,167.60 M732.15,171.00 L735.64,170.13 M732.15,171.00 L728.66,170.13 M732.15,171.00 L734.04,173.70 M732.15,171.00 L730.26,173.70 M740.05,171.00 L740.05,167.60 M740.05,171.00 L743.54,170.13 M740.05,171.00 L736.56,170.13 M740.05,171.00 L741.94,173.70 M740.05,171.00 L738.16,173.70" stroke="#111" stroke-width="1.75" fill="none"/>
<line x1="696.00" y1="195.00" x2="724.10" y2="195.00" stroke="#2a2a2a" stroke-width="1.7"/>
<path d="M697.15,189.90 L697.15,186.50 M697.15,189.90 L700.64,189.03 M697.15,189.90 L693.66,189.03 M697.15,189.90 L699.04,192.60 M697.15,189.90 L695.26,192.60 M705.05,189.90 L705.05,186.50 M705.05,189.90 L708.54,189.03 M705.05,189.90 L701.56,189.03 M705.05,189.90 L706.94,192.60 M705.05,189.90 L703.16,192.60 M712.95,189.90 L712.95,186.50 M712.95,189.90 L716.44,189.03 M712.95,189.90 L709.46,189.03 M712.95,189.90 L714.84,192.60 M712.95,189.90 L711.06,192.60 M720.85,189.90 L720.85,186.50 M720.85,189.90 L724.34,189.03 M720.85,189.90 L717.36,189.03 M720.85,189.90 L722.74,192.60 M720.85,189.90 L718.96,192.60" stroke="#111" stroke-width="1.75" fill="none"/>
<line x1="728.70" y1="205.20" x2="758.50" y2="205.20" stroke="#2a2a2a" stroke-width="1.7"/>
<path d="M731.15,200.50 L731.15,197.10 M731.15,200.50 L734.64,199.63 M731.15,200.50 L727.66,199.63 M731.15,200.50 L733.04,203.20 M731.15,200.50 L729.26,203.20 M739.05,200.50 L739.05,197.10 M739.05,200.50 L742.54,199.63 M739.05,200.50 L735.56,199.63 M739.05,200.50 L740.94,203.20 M739.05,200.50 L737.16,203.20 M746.95,200.50 L746.95,197.10 M746.95,200.50 L750.44,199.63 M746.95,200.50 L743.46,199.63 M746.95,200.50 L748.84,203.20 M746.95,200.50 L745.06,203.20 M754.85,200.50 L754.85,197.10 M754.85,200.50 L758.34,199.63 M754.85,200.50 L751.36,199.63 M754.85,200.50 L756.74,203.20 M754.85,200.50 L752.96,203.20" stroke="#111" stroke-width="1.75" fill="none"/>
<text x="683.75" y="45.60" font-family="Liberation Serif" font-size="21" text-anchor="middle" fill="#000" >Citrate</text>
<text transform="translate(515.80,154.70) rotate(-90)" x="0" y="0" font-family="Liberation Sans" font-size="17" text-anchor="middle" fill="#111">Fractional enrichment (<tspan dx="1.5">%</tspan><tspan dx="1.5">)</tspan></text>
<rect x="857.30" y="112.30" width="19.50" height="130.10" fill="#a3d1f7" stroke="#6f7d88" stroke-width="1"/>
<rect x="887.20" y="169.40" width="19.60" height="73.00" fill="#67b4ef" stroke="#50626f" stroke-width="1"/>
<rect x="917.40" y="113.40" width="19.90" height="129.00" fill="#fcc4de" stroke="#8a7e84" stroke-width="1"/>
<rect x="967.90" y="182.20" width="19.70" height="60.20" fill="#a3d1f7" stroke="#6f7d88" stroke-width="1"/>
<rect x="998.10" y="214.40" width="19.70" height="28.00" fill="#67b4ef" stroke="#50626f" stroke-width="1"/>
<rect x="1028.50" y="187.20" width="19.70" height="55.20" fill="#fcc4de" stroke="#8a7e84" stroke-width="1"/>
<line x1="867.05" y1="112.30" x2="867.05" y2="108.60" stroke="#666" stroke-width="1"/>
<line x1="862.05" y1="108.60" x2="872.05" y2="108.60" stroke="#666" stroke-width="1"/>
<line x1="897.00" y1="169.40" x2="897.00" y2="163.50" stroke="#666" stroke-width="1"/>
<line x1="892.00" y1="163.50" x2="902.00" y2="163.50" stroke="#666" stroke-width="1"/>
<line x1="927.35" y1="113.40" x2="927.35" y2="106.30" stroke="#666" stroke-width="1"/>
<line x1="922.35" y1="106.30" x2="932.35" y2="106.30" stroke="#666" stroke-width="1"/>
<line x1="977.75" y1="182.20" x2="977.75" y2="178.10" stroke="#666" stroke-width="1"/>
<line x1="972.75" y1="178.10" x2="982.75" y2="178.10" stroke="#666" stroke-width="1"/>
<line x1="1007.95" y1="214.40" x2="1007.95" y2="212.60" stroke="#666" stroke-width="1"/>
<line x1="1002.95" y1="212.60" x2="1012.95" y2="212.60" stroke="#666" stroke-width="1"/>
<line x1="1038.35" y1="187.20" x2="1038.35" y2="184.40" stroke="#666" stroke-width="1"/>
<line x1="1033.35" y1="184.40" x2="1043.35" y2="184.40" stroke="#666" stroke-width="1"/>
<circle cx="866.50" cy="109.70" r="3.2" fill="none" stroke="#383838" stroke-width="0.85"/>
<circle cx="874.50" cy="108.60" r="3.2" fill="none" stroke="#383838" stroke-width="0.85"/>
<circle cx="866.80" cy="118.90" r="3.2" fill="none" stroke="#383838" stroke-width="0.85"/>
<circle cx="897.10" cy="158.10" r="3.2" fill="none" stroke="#383838" stroke-width="0.85"/>
<circle cx="897.10" cy="169.90" r="3.2" fill="none" stroke="#383838" stroke-width="0.85"/>
<circle cx="897.10" cy="177.40" r="3.2" fill="none" stroke="#383838" stroke-width="0.85"/>
<circle cx="927.40" cy="101.20" r="3.2" fill="none" stroke="#383838" stroke-width="0.85"/>
<circle cx="927.40" cy="112.00" r="3.2" fill="none" stroke="#383838" stroke-width="0.85"/>
<circle cx="927.40" cy="125.00" r="3.2" fill="none" stroke="#383838" stroke-width="0.85"/>
<circle cx="977.60" cy="174.00" r="3.2" fill="none" stroke="#383838" stroke-width="0.85"/>
<circle cx="984.70" cy="183.80" r="3.2" fill="none" stroke="#383838" stroke-width="0.85"/>
<circle cx="970.60" cy="187.90" r="3.2" fill="none" stroke="#383838" stroke-width="0.85"/>
<circle cx="1007.60" cy="211.20" r="3.2" fill="none" stroke="#383838" stroke-width="0.85"/>
<circle cx="1015.30" cy="212.60" r="3.2" fill="none" stroke="#383838" stroke-width="0.85"/>
<circle cx="1001.40" cy="217.80" r="3.2" fill="none" stroke="#383838" stroke-width="0.85"/>
<circle cx="1038.00" cy="184.40" r="3.2" fill="none" stroke="#383838" stroke-width="0.85"/>
<circle cx="1045.70" cy="183.10" r="3.2" fill="none" stroke="#383838" stroke-width="0.85"/>
<circle cx="1038.00" cy="192.40" r="3.2" fill="none" stroke="#383838" stroke-width="0.85"/>
<line x1="846.70" y1="90.40" x2="846.70" y2="243.30" stroke="#1a1a1a" stroke-width="1.9"/>
<line x1="845.80" y1="242.40" x2="1059.40" y2="242.40" stroke="#1a1a1a" stroke-width="1.9"/>
<line x1="840.20" y1="242.40" x2="846.70" y2="242.40" stroke="#1a1a1a" stroke-width="1.6"/>
<text x="838.70" y="246.60" font-family="Liberation Sans" font-size="11.6" text-anchor="end" fill="#111" >0</text>
<line x1="840.20" y1="204.80" x2="846.70" y2="204.80" stroke="#1a1a1a" stroke-width="1.6"/>
<line x1="840.20" y1="167.10" x2="846.70" y2="167.10" stroke="#1a1a1a" stroke-width="1.6"/>
<text x="838.70" y="171.30" font-family="Liberation Sans" font-size="11.6" text-anchor="end" fill="#111" >4</text>
<line x1="840.20" y1="129.20" x2="846.70" y2="129.20" stroke="#1a1a1a" stroke-width="1.6"/>
<text x="838.70" y="133.40" font-family="Liberation Sans" font-size="11.6" text-anchor="end" fill="#111" >6</text>
<line x1="840.20" y1="91.30" x2="846.70" y2="91.30" stroke="#1a1a1a" stroke-width="1.6"/>
<text x="838.70" y="95.50" font-family="Liberation Sans" font-size="11.6" text-anchor="end" fill="#111" >8</text>
<line x1="897.00" y1="242.40" x2="897.00" y2="249.40" stroke="#1a1a1a" stroke-width="1.6"/>
<text x="897.00" y="262.40" font-family="Liberation Sans" font-size="12.2" text-anchor="middle" fill="#111" >M+2</text>
<line x1="1007.60" y1="242.40" x2="1007.60" y2="249.40" stroke="#1a1a1a" stroke-width="1.6"/>
<text x="1007.60" y="262.40" font-family="Liberation Sans" font-size="12.2" text-anchor="middle" fill="#111" >M+4</text>
<line x1="865.70" y1="82.10" x2="927.00" y2="82.10" stroke="#2a2a2a" stroke-width="1.7"/>
<text x="899.50" y="78.20" font-family="Liberation Sans" font-size="17" text-anchor="middle" fill="#111" >ns</text>
<line x1="865.70" y1="98.60" x2="894.00" y2="98.60" stroke="#2a2a2a" stroke-width="1.7"/>
<path d="M872.10,93.90 L872.10,90.50 M872.10,93.90 L875.59,93.03 M872.10,93.90 L868.61,93.03 M872.10,93.90 L873.99,96.60 M872.10,93.90 L870.21,96.60 M880.00,93.90 L880.00,90.50 M880.00,93.90 L883.49,93.03 M880.00,93.90 L876.51,93.03 M880.00,93.90 L881.89,96.60 M880.00,93.90 L878.11,96.60 M887.90,93.90 L887.90,90.50 M887.90,93.90 L891.39,93.03 M887.90,93.90 L884.41,93.03 M887.90,93.90 L889.79,96.60 M887.90,93.90 L886.01,96.60" stroke="#111" stroke-width="1.75" fill="none"/>
<line x1="900.50" y1="98.60" x2="926.60" y2="98.60" stroke="#2a2a2a" stroke-width="1.7"/>
<path d="M906.10,93.90 L906.10,90.50 M906.10,93.90 L909.59,93.03 M906.10,93.90 L902.61,93.03 M906.10,93.90 L907.99,96.60 M906.10,93.90 L904.21,96.60 M914.00,93.90 L914.00,90.50 M914.00,93.90 L917.49,93.03 M914.00,93.90 L910.51,93.03 M914.00,93.90 L915.89,96.60 M914.00,93.90 L912.11,96.60 M921.90,93.90 L921.90,90.50 M921.90,93.90 L925.39,93.03 M921.90,93.90 L918.41,93.03 M921.90,93.90 L923.79,96.60 M921.90,93.90 L920.01,96.60" stroke="#111" stroke-width="1.75" fill="none"/>
<line x1="979.40" y1="145.60" x2="1040.30" y2="145.60" stroke="#2a2a2a" stroke-width="1.7"/>
<text x="1010.70" y="141.10" font-family="Liberation Sans" font-size="17" text-anchor="middle" fill="#111" >ns</text>
<line x1="978.50" y1="162.90" x2="1008.90" y2="162.90" stroke="#2a2a2a" stroke-width="1.7"/>
<path d="M985.00,158.80 L985.00,155.40 M985.00,158.80 L988.49,157.93 M985.00,158.80 L981.51,157.93 M985.00,158.80 L986.89,161.50 M985.00,158.80 L983.11,161.50 M992.90,158.80 L992.90,155.40 M992.90,158.80 L996.39,157.93 M992.90,158.80 L989.41,157.93 M992.90,158.80 L994.79,161.50 M992.90,158.80 L991.01,161.50 M1000.80,158.80 L1000.80,155.40 M1000.80,158.80 L1004.29,157.93 M1000.80,158.80 L997.31,157.93 M1000.80,158.80 L1002.69,161.50 M1000.80,158.80 L998.91,161.50" stroke="#111" stroke-width="1.75" fill="none"/>
<line x1="1011.50" y1="174.20" x2="1039.80" y2="174.20" stroke="#2a2a2a" stroke-width="1.7"/>
<path d="M1021.95,170.40 L1021.95,167.00 M1021.95,170.40 L1025.44,169.53 M1021.95,170.40 L1018.46,169.53 M1021.95,170.40 L1023.84,173.10 M1021.95,170.40 L1020.06,173.10 M1029.85,170.40 L1029.85,167.00 M1029.85,170.40 L1033.34,169.53 M1029.85,170.40 L1026.36,169.53 M1029.85,170.40 L1031.74,173.10 M1029.85,170.40 L1027.96,173.10" stroke="#111" stroke-width="1.75" fill="none"/>
<text x="961.00" y="45.60" font-family="Liberation Serif" font-size="21" text-anchor="middle" fill="#000" >α-ketoglutarate</text>
<text transform="translate(822.60,167.50) rotate(-90)" x="0" y="0" font-family="Liberation Sans" font-size="17" text-anchor="middle" fill="#111">Fractional enrichment (<tspan dx="1.5">%</tspan><tspan dx="1.5">)</tspan></text>
<rect x="559.40" y="356.60" width="19.70" height="134.40" fill="#a3d1f7" stroke="#6f7d88" stroke-width="1"/>
<rect x="589.70" y="426.10" width="20.00" height="64.90" fill="#67b4ef" stroke="#50626f" stroke-width="1"/>
<rect x="620.10" y="417.20" width="19.70" height="73.80" fill="#fcc4de" stroke="#8a7e84" stroke-width="1"/>
<rect x="670.30" y="380.20" width="19.60" height="110.80" fill="#a3d1f7" stroke="#6f7d88" stroke-width="1"/>
<rect x="700.60" y="424.20" width="19.90" height="66.80" fill="#67b4ef" stroke="#50626f" stroke-width="1"/>
<rect x="731.30" y="381.50" width="19.10" height="109.50" fill="#fcc4de" stroke="#8a7e84" stroke-width="1"/>
<line x1="569.25" y1="356.60" x2="569.25" y2="354.50" stroke="#666" stroke-width="1"/>
<line x1="564.25" y1="354.50" x2="574.25" y2="354.50" stroke="#666" stroke-width="1"/>
<line x1="599.70" y1="426.10" x2="599.70" y2="408.20" stroke="#666" stroke-width="1"/>
<line x1="594.70" y1="408.20" x2="604.70" y2="408.20" stroke="#666" stroke-width="1"/>
<line x1="629.95" y1="417.20" x2="629.95" y2="394.30" stroke="#666" stroke-width="1"/>
<line x1="624.95" y1="394.30" x2="634.95" y2="394.30" stroke="#666" stroke-width="1"/>
<line x1="680.10" y1="380.20" x2="680.10" y2="368.50" stroke="#666" stroke-width="1"/>
<line x1="675.10" y1="368.50" x2="685.10" y2="368.50" stroke="#666" stroke-width="1"/>
<line x1="710.55" y1="424.20" x2="710.55" y2="416.40" stroke="#666" stroke-width="1"/>
<line x1="705.55" y1="416.40" x2="715.55" y2="416.40" stroke="#666" stroke-width="1"/>
<line x1="740.85" y1="381.50" x2="740.85" y2="370.80" stroke="#666" stroke-width="1"/>
<line x1="735.85" y1="370.80" x2="745.85" y2="370.80" stroke="#666" stroke-width="1"/>
<circle cx="562.10" cy="357.40" r="3.2" fill="none" stroke="#383838" stroke-width="0.85"/>
<circle cx="569.30" cy="354.60" r="3.2" fill="none" stroke="#383838" stroke-width="0.85"/>
<circle cx="576.30" cy="355.10" r="3.2" fill="none" stroke="#383838" stroke-width="0.85"/>
<circle cx="599.50" cy="393.80" r="3.2" fill="none" stroke="#383838" stroke-width="0.85"/>
<circle cx="599.50" cy="431.30" r="3.2" fill="none" stroke="#383838" stroke-width="0.85"/>
<circle cx="599.50" cy="453.30" r="3.2" fill="none" stroke="#383838" stroke-width="0.85"/>
<circle cx="629.80" cy="373.20" r="3.2" fill="none" stroke="#383838" stroke-width="0.85"/>
<circle cx="629.80" cy="427.70" r="3.2" fill="none" stroke="#383838" stroke-width="0.85"/>
<circle cx="629.80" cy="451.20" r="3.2" fill="none" stroke="#383838" stroke-width="0.85"/>
<circle cx="679.90" cy="358.70" r="3.2" fill="none" stroke="#383838" stroke-width="0.85"/>
<circle cx="679.90" cy="383.20" r="3.2" fill="none" stroke="#383838" stroke-width="0.85"/>
<circle cx="679.90" cy="397.30" r="3.2" fill="none" stroke="#383838" stroke-width="0.85"/>
<circle cx="710.20" cy="410.30" r="3.2" fill="none" stroke="#383838" stroke-width="0.85"/>
<circle cx="710.20" cy="424.50" r="3.2" fill="none" stroke="#383838" stroke-width="0.85"/>
<circle cx="710.20" cy="437.20" r="3.2" fill="none" stroke="#383838" stroke-width="0.85"/>
<circle cx="740.50" cy="372.80" r="3.2" fill="none" stroke="#383838" stroke-width="0.85"/>
<circle cx="748.10" cy="368.70" r="3.2" fill="none" stroke="#383838" stroke-width="0.85"/>
<circle cx="740.50" cy="402.70" r="3.2" fill="none" stroke="#383838" stroke-width="0.85"/>
<line x1="549.00" y1="338.60" x2="549.00" y2="491.90" stroke="#1a1a1a" stroke-width="1.9"/>
<line x1="548.10" y1="491.00" x2="761.90" y2="491.00" stroke="#1a1a1a" stroke-width="1.9"/>
<line x1="542.50" y1="491.00" x2="549.00" y2="491.00" stroke="#1a1a1a" stroke-width="1.6"/>
<text x="541.00" y="495.20" font-family="Liberation Sans" font-size="11.6" text-anchor="end" fill="#111" >0</text>
<line x1="542.50" y1="440.40" x2="549.00" y2="440.40" stroke="#1a1a1a" stroke-width="1.6"/>
<text x="541.00" y="444.60" font-family="Liberation Sans" font-size="11.6" text-anchor="end" fill="#111" >2</text>
<line x1="542.50" y1="390.10" x2="549.00" y2="390.10" stroke="#1a1a1a" stroke-width="1.6"/>
<text x="541.00" y="394.30" font-family="Liberation Sans" font-size="11.6" text-anchor="end" fill="#111" >4</text>
<line x1="542.50" y1="339.50" x2="549.00" y2="339.50" stroke="#1a1a1a" stroke-width="1.6"/>
<text x="541.00" y="343.70" font-family="Liberation Sans" font-size="11.6" text-anchor="end" fill="#111" >6</text>
<line x1="599.50" y1="491.00" x2="599.50" y2="498.00" stroke="#1a1a1a" stroke-width="1.6"/>
<text x="599.50" y="511.00" font-family="Liberation Sans" font-size="12.2" text-anchor="middle" fill="#111" >M+2</text>
<line x1="710.20" y1="491.00" x2="710.20" y2="498.00" stroke="#1a1a1a" stroke-width="1.6"/>
<text x="710.20" y="511.00" font-family="Liberation Sans" font-size="12.2" text-anchor="middle" fill="#111" >M+4</text>
<text x="564.30" y="342.10" font-family="Liberation Sans" font-size="13.2" text-anchor="start" fill="#111" >p=0.056</text>
<line x1="571.30" y1="346.20" x2="597.30" y2="346.20" stroke="#2a2a2a" stroke-width="1.7"/>
<line x1="678.90" y1="336.80" x2="740.80" y2="336.80" stroke="#2a2a2a" stroke-width="1.7"/>
<text x="711.90" y="333.00" font-family="Liberation Sans" font-size="17" text-anchor="middle" fill="#111" >ns</text>
<line x1="678.40" y1="350.60" x2="707.20" y2="350.60" stroke="#2a2a2a" stroke-width="1.7"/>
<path d="M692.70,346.30 L692.70,342.90 M692.70,346.30 L696.19,345.43 M692.70,346.30 L689.21,345.43 M692.70,346.30 L694.59,349.00 M692.70,346.30 L690.81,349.00" stroke="#111" stroke-width="1.75" fill="none"/>
<text x="704.00" y="359.80" font-family="Liberation Sans" font-size="13.2" text-anchor="start" fill="#111" >p=0.055</text>
<line x1="712.10" y1="363.90" x2="740.80" y2="363.90" stroke="#2a2a2a" stroke-width="1.7"/>
<text x="676.75" y="295.30" font-family="Liberation Serif" font-size="21" text-anchor="middle" fill="#000" >Succinate</text>
<text transform="translate(525.00,416.70) rotate(-90)" x="0" y="0" font-family="Liberation Sans" font-size="17" text-anchor="middle" fill="#111">Fractional enrichment (<tspan dx="1.5">%</tspan><tspan dx="1.5">)</tspan></text>
<rect x="857.70" y="365.40" width="19.90" height="125.50" fill="#a3d1f7" stroke="#6f7d88" stroke-width="1"/>
<rect x="888.30" y="399.30" width="20.20" height="91.60" fill="#67b4ef" stroke="#50626f" stroke-width="1"/>
<rect x="919.40" y="390.50" width="19.50" height="100.40" fill="#fcc4de" stroke="#8a7e84" stroke-width="1"/>
<rect x="970.20" y="452.10" width="20.10" height="38.80" fill="#a3d1f7" stroke="#6f7d88" stroke-width="1"/>
<rect x="1001.00" y="475.80" width="19.80" height="15.10" fill="#67b4ef" stroke="#50626f" stroke-width="1"/>
<rect x="1031.50" y="449.30" width="19.90" height="41.60" fill="#fcc4de" stroke="#8a7e84" stroke-width="1"/>
<line x1="867.65" y1="365.40" x2="867.65" y2="362.80" stroke="#666" stroke-width="1"/>
<line x1="862.65" y1="362.80" x2="872.65" y2="362.80" stroke="#666" stroke-width="1"/>
<line x1="898.40" y1="399.30" x2="898.40" y2="397.50" stroke="#666" stroke-width="1"/>
<line x1="893.40" y1="397.50" x2="903.40" y2="397.50" stroke="#666" stroke-width="1"/>
<line x1="929.15" y1="390.50" x2="929.15" y2="388.70" stroke="#666" stroke-width="1"/>
<line x1="924.15" y1="388.70" x2="934.15" y2="388.70" stroke="#666" stroke-width="1"/>
<line x1="980.25" y1="452.10" x2="980.25" y2="450.30" stroke="#666" stroke-width="1"/>
<line x1="975.25" y1="450.30" x2="985.25" y2="450.30" stroke="#666" stroke-width="1"/>
<line x1="1010.90" y1="475.80" x2="1010.90" y2="474.00" stroke="#666" stroke-width="1"/>
<line x1="1005.90" y1="474.00" x2="1015.90" y2="474.00" stroke="#666" stroke-width="1"/>
<line x1="1041.45" y1="449.30" x2="1041.45" y2="447.50" stroke="#666" stroke-width="1"/>
<line x1="1036.45" y1="447.50" x2="1046.45" y2="447.50" stroke="#666" stroke-width="1"/>
<circle cx="867.40" cy="360.50" r="3.2" fill="none" stroke="#383838" stroke-width="0.85"/>
<circle cx="874.80" cy="364.30" r="3.2" fill="none" stroke="#383838" stroke-width="0.85"/>
<circle cx="860.70" cy="370.10" r="3.2" fill="none" stroke="#383838" stroke-width="0.85"/>
<circle cx="891.50" cy="401.80" r="3.2" fill="none" stroke="#383838" stroke-width="0.85"/>
<circle cx="898.10" cy="397.00" r="3.2" fill="none" stroke="#383838" stroke-width="0.85"/>
<circle cx="905.60" cy="397.90" r="3.2" fill="none" stroke="#383838" stroke-width="0.85"/>
<circle cx="921.90" cy="391.10" r="3.2" fill="none" stroke="#383838" stroke-width="0.85"/>
<circle cx="928.90" cy="388.00" r="3.2" fill="none" stroke="#383838" stroke-width="0.85"/>
<circle cx="936.20" cy="390.20" r="3.2" fill="none" stroke="#383838" stroke-width="0.85"/>
<circle cx="973.00" cy="453.10" r="3.2" fill="none" stroke="#383838" stroke-width="0.85"/>
<circle cx="980.20" cy="448.70" r="3.2" fill="none" stroke="#383838" stroke-width="0.85"/>
<circle cx="987.20" cy="452.40" r="3.2" fill="none" stroke="#383838" stroke-width="0.85"/>
<circle cx="1003.60" cy="475.00" r="3.2" fill="none" stroke="#383838" stroke-width="0.85"/>
<circle cx="1010.80" cy="474.30" r="3.2" fill="none" stroke="#383838" stroke-width="0.85"/>
<circle cx="1017.90" cy="475.00" r="3.2" fill="none" stroke="#383838" stroke-width="0.85"/>
<circle cx="1034.20" cy="451.60" r="3.2" fill="none" stroke="#383838" stroke-width="0.85"/>
<circle cx="1041.40" cy="445.20" r="3.2" fill="none" stroke="#383838" stroke-width="0.85"/>
<circle cx="1048.80" cy="449.00" r="3.2" fill="none" stroke="#383838" stroke-width="0.85"/>
<line x1="847.30" y1="336.10" x2="847.30" y2="491.80" stroke="#1a1a1a" stroke-width="1.9"/>
<line x1="846.40" y1="490.90" x2="1063.00" y2="490.90" stroke="#1a1a1a" stroke-width="1.9"/>
<line x1="840.80" y1="490.90" x2="847.30" y2="490.90" stroke="#1a1a1a" stroke-width="1.6"/>
<text x="839.30" y="495.10" font-family="Liberation Sans" font-size="11.6" text-anchor="end" fill="#111" >0</text>
<line x1="840.80" y1="452.40" x2="847.30" y2="452.40" stroke="#1a1a1a" stroke-width="1.6"/>
<text x="839.30" y="456.60" font-family="Liberation Sans" font-size="11.6" text-anchor="end" fill="#111" >2</text>
<line x1="840.80" y1="413.60" x2="847.30" y2="413.60" stroke="#1a1a1a" stroke-width="1.6"/>
<text x="839.30" y="417.80" font-family="Liberation Sans" font-size="11.6" text-anchor="end" fill="#111" >4</text>
<line x1="840.80" y1="375.80" x2="847.30" y2="375.80" stroke="#1a1a1a" stroke-width="1.6"/>
<text x="839.30" y="380.00" font-family="Liberation Sans" font-size="11.6" text-anchor="end" fill="#111" >6</text>
<line x1="840.80" y1="337.00" x2="847.30" y2="337.00" stroke="#1a1a1a" stroke-width="1.6"/>
<text x="839.30" y="341.20" font-family="Liberation Sans" font-size="11.6" text-anchor="end" fill="#111" >8</text>
<line x1="897.80" y1="490.90" x2="897.80" y2="497.90" stroke="#1a1a1a" stroke-width="1.6"/>
<text x="897.80" y="510.90" font-family="Liberation Sans" font-size="12.2" text-anchor="middle" fill="#111" >M+2</text>
<line x1="1010.80" y1="490.90" x2="1010.80" y2="497.90" stroke="#1a1a1a" stroke-width="1.6"/>
<text x="1010.80" y="510.90" font-family="Liberation Sans" font-size="12.2" text-anchor="middle" fill="#111" >M+4</text>
<line x1="867.70" y1="338.70" x2="928.40" y2="338.70" stroke="#2a2a2a" stroke-width="1.7"/>
<path d="M889.80,333.70 L889.80,330.30 M889.80,333.70 L893.29,332.83 M889.80,333.70 L886.31,332.83 M889.80,333.70 L891.69,336.40 M889.80,333.70 L887.91,336.40 M897.70,333.70 L897.70,330.30 M897.70,333.70 L901.19,332.83 M897.70,333.70 L894.21,332.83 M897.70,333.70 L899.59,336.40 M897.70,333.70 L895.81,336.40 M905.60,333.70 L905.60,330.30 M905.60,333.70 L909.09,332.83 M905.60,333.70 L902.11,332.83 M905.60,333.70 L907.49,336.40 M905.60,333.70 L903.71,336.40" stroke="#111" stroke-width="1.75" fill="none"/>
<line x1="866.20" y1="354.60" x2="895.80" y2="354.60" stroke="#2a2a2a" stroke-width="1.7"/>
<path d="M869.55,348.50 L869.55,345.10 M869.55,348.50 L873.04,347.63 M869.55,348.50 L866.06,347.63 M869.55,348.50 L871.44,351.20 M869.55,348.50 L867.66,351.20 M877.45,348.50 L877.45,345.10 M877.45,348.50 L880.94,347.63 M877.45,348.50 L873.96,347.63 M877.45,348.50 L879.34,351.20 M877.45,348.50 L875.56,351.20 M885.35,348.50 L885.35,345.10 M885.35,348.50 L888.84,347.63 M885.35,348.50 L881.86,347.63 M885.35,348.50 L887.24,351.20 M885.35,348.50 L883.46,351.20 M893.25,348.50 L893.25,345.10 M893.25,348.50 L896.74,347.63 M893.25,348.50 L889.76,347.63 M893.25,348.50 L895.14,351.20 M893.25,348.50 L891.36,351.20" stroke="#111" stroke-width="1.75" fill="none"/>
<line x1="900.70" y1="375.50" x2="928.00" y2="375.50" stroke="#2a2a2a" stroke-width="1.7"/>
<path d="M913.00,368.50 L913.00,365.10 M913.00,368.50 L916.49,367.63 M913.00,368.50 L909.51,367.63 M913.00,368.50 L914.89,371.20 M913.00,368.50 L911.11,371.20" stroke="#111" stroke-width="1.75" fill="none"/>
<line x1="981.40" y1="424.50" x2="1041.90" y2="424.50" stroke="#2a2a2a" stroke-width="1.7"/>
<text x="1012.50" y="420.70" font-family="Liberation Sans" font-size="17" text-anchor="middle" fill="#111" >ns</text>
<line x1="981.40" y1="441.00" x2="1010.80" y2="441.00" stroke="#2a2a2a" stroke-width="1.7"/>
<path d="M982.65,435.60 L982.65,432.20 M982.65,435.60 L986.14,434.73 M982.65,435.60 L979.16,434.73 M982.65,435.60 L984.54,438.30 M982.65,435.60 L980.76,438.30 M990.55,435.60 L990.55,432.20 M990.55,435.60 L994.04,434.73 M990.55,435.60 L987.06,434.73 M990.55,435.60 L992.44,438.30 M990.55,435.60 L988.66,438.30 M998.45,435.60 L998.45,432.20 M998.45,435.60 L1001.94,434.73 M998.45,435.60 L994.96,434.73 M998.45,435.60 L1000.34,438.30 M998.45,435.60 L996.56,438.30 M1006.35,435.60 L1006.35,432.20 M1006.35,435.60 L1009.84,434.73 M1006.35,435.60 L1002.86,434.73 M1006.35,435.60 L1008.24,438.30 M1006.35,435.60 L1004.46,438.30" stroke="#111" stroke-width="1.75" fill="none"/>
<line x1="1014.30" y1="441.00" x2="1041.90" y2="441.00" stroke="#2a2a2a" stroke-width="1.7"/>
<path d="M1017.15,435.60 L1017.15,432.20 M1017.15,435.60 L1020.64,434.73 M1017.15,435.60 L1013.66,434.73 M1017.15,435.60 L1019.04,438.30 M1017.15,435.60 L1015.26,438.30 M1025.05,435.60 L1025.05,432.20 M1025.05,435.60 L1028.54,434.73 M1025.05,435.60 L1021.56,434.73 M1025.05,435.60 L1026.94,438.30 M1025.05,435.60 L1023.16,438.30 M1032.95,435.60 L1032.95,432.20 M1032.95,435.60 L1036.44,434.73 M1032.95,435.60 L1029.46,434.73 M1032.95,435.60 L1034.84,438.30 M1032.95,435.60 L1031.06,438.30 M1040.85,435.60 L1040.85,432.20 M1040.85,435.60 L1044.34,434.73 M1040.85,435.60 L1037.36,434.73 M1040.85,435.60 L1042.74,438.30 M1040.85,435.60 L1038.96,438.30" stroke="#111" stroke-width="1.75" fill="none"/>
<text x="959.50" y="295.30" font-family="Liberation Serif" font-size="21" text-anchor="middle" fill="#000" >Fumarate</text>
<text transform="translate(823.00,414.90) rotate(-90)" x="0" y="0" font-family="Liberation Sans" font-size="17" text-anchor="middle" fill="#111">Fractional enrichment (<tspan dx="1.5">%</tspan><tspan dx="1.5">)</tspan></text>
<rect x="559.50" y="602.30" width="19.60" height="132.20" fill="#a3d1f7" stroke="#6f7d88" stroke-width="1"/>
<rect x="590.10" y="636.80" width="19.40" height="97.70" fill="#67b4ef" stroke="#50626f" stroke-width="1"/>
<rect x="620.30" y="622.00" width="19.30" height="112.50" fill="#fcc4de" stroke="#8a7e84" stroke-width="1"/>
<rect x="670.30" y="687.30" width="19.50" height="47.20" fill="#a3d1f7" stroke="#6f7d88" stroke-width="1"/>
<rect x="700.50" y="718.10" width="20.10" height="16.40" fill="#67b4ef" stroke="#50626f" stroke-width="1"/>
<rect x="730.80" y="692.40" width="19.60" height="42.10" fill="#fcc4de" stroke="#8a7e84" stroke-width="1"/>
<line x1="569.30" y1="602.30" x2="569.30" y2="597.40" stroke="#666" stroke-width="1"/>
<line x1="564.30" y1="597.40" x2="574.30" y2="597.40" stroke="#666" stroke-width="1"/>
<line x1="599.80" y1="636.80" x2="599.80" y2="635.00" stroke="#666" stroke-width="1"/>
<line x1="594.80" y1="635.00" x2="604.80" y2="635.00" stroke="#666" stroke-width="1"/>
<line x1="629.95" y1="622.00" x2="629.95" y2="620.20" stroke="#666" stroke-width="1"/>
<line x1="624.95" y1="620.20" x2="634.95" y2="620.20" stroke="#666" stroke-width="1"/>
<line x1="680.05" y1="687.30" x2="680.05" y2="685.50" stroke="#666" stroke-width="1"/>
<line x1="675.05" y1="685.50" x2="685.05" y2="685.50" stroke="#666" stroke-width="1"/>
<line x1="710.55" y1="718.10" x2="710.55" y2="716.30" stroke="#666" stroke-width="1"/>
<line x1="705.55" y1="716.30" x2="715.55" y2="716.30" stroke="#666" stroke-width="1"/>
<line x1="740.60" y1="692.40" x2="740.60" y2="690.60" stroke="#666" stroke-width="1"/>
<line x1="735.60" y1="690.60" x2="745.60" y2="690.60" stroke="#666" stroke-width="1"/>
<circle cx="569.30" cy="599.00" r="3.2" fill="none" stroke="#383838" stroke-width="0.85"/>
<circle cx="576.60" cy="597.10" r="3.2" fill="none" stroke="#383838" stroke-width="0.85"/>
<circle cx="569.30" cy="610.00" r="3.2" fill="none" stroke="#383838" stroke-width="0.85"/>
<circle cx="592.40" cy="636.80" r="3.2" fill="none" stroke="#383838" stroke-width="0.85"/>
<circle cx="599.60" cy="635.70" r="3.2" fill="none" stroke="#383838" stroke-width="0.85"/>
<circle cx="606.80" cy="636.80" r="3.2" fill="none" stroke="#383838" stroke-width="0.85"/>
<circle cx="622.90" cy="624.30" r="3.2" fill="none" stroke="#383838" stroke-width="0.85"/>
<circle cx="630.00" cy="619.70" r="3.2" fill="none" stroke="#383838" stroke-width="0.85"/>
<circle cx="636.90" cy="620.40" r="3.2" fill="none" stroke="#383838" stroke-width="0.85"/>
<circle cx="680.40" cy="683.80" r="3.2" fill="none" stroke="#383838" stroke-width="0.85"/>
<circle cx="687.40" cy="685.30" r="3.2" fill="none" stroke="#383838" stroke-width="0.85"/>
<circle cx="673.30" cy="691.10" r="3.2" fill="none" stroke="#383838" stroke-width="0.85"/>
<circle cx="703.80" cy="718.90" r="3.2" fill="none" stroke="#383838" stroke-width="0.85"/>
<circle cx="710.80" cy="715.20" r="3.2" fill="none" stroke="#383838" stroke-width="0.85"/>
<circle cx="717.50" cy="715.80" r="3.2" fill="none" stroke="#383838" stroke-width="0.85"/>
<circle cx="733.90" cy="694.40" r="3.2" fill="none" stroke="#383838" stroke-width="0.85"/>
<circle cx="740.90" cy="691.10" r="3.2" fill="none" stroke="#383838" stroke-width="0.85"/>
<circle cx="748.00" cy="691.10" r="3.2" fill="none" stroke="#383838" stroke-width="0.85"/>
<line x1="549.00" y1="582.00" x2="549.00" y2="735.40" stroke="#1a1a1a" stroke-width="1.9"/>
<line x1="548.10" y1="734.50" x2="761.70" y2="734.50" stroke="#1a1a1a" stroke-width="1.9"/>
<line x1="542.50" y1="734.50" x2="549.00" y2="734.50" stroke="#1a1a1a" stroke-width="1.6"/>
<text x="541.00" y="738.70" font-family="Liberation Sans" font-size="11.6" text-anchor="end" fill="#111" >0</text>
<line x1="542.50" y1="696.60" x2="549.00" y2="696.60" stroke="#1a1a1a" stroke-width="1.6"/>
<text x="541.00" y="700.80" font-family="Liberation Sans" font-size="11.6" text-anchor="end" fill="#111" >2</text>
<line x1="542.50" y1="658.80" x2="549.00" y2="658.80" stroke="#1a1a1a" stroke-width="1.6"/>
<text x="541.00" y="663.00" font-family="Liberation Sans" font-size="11.6" text-anchor="end" fill="#111" >4</text>
<line x1="542.50" y1="621.20" x2="549.00" y2="621.20" stroke="#1a1a1a" stroke-width="1.6"/>
<text x="541.00" y="625.40" font-family="Liberation Sans" font-size="11.6" text-anchor="end" fill="#111" >6</text>
<line x1="542.50" y1="582.90" x2="549.00" y2="582.90" stroke="#1a1a1a" stroke-width="1.6"/>
<text x="541.00" y="587.10" font-family="Liberation Sans" font-size="11.6" text-anchor="end" fill="#111" >8</text>
<line x1="599.00" y1="734.50" x2="599.00" y2="741.50" stroke="#1a1a1a" stroke-width="1.6"/>
<text x="599.00" y="754.50" font-family="Liberation Sans" font-size="12.2" text-anchor="middle" fill="#111" >M+2</text>
<line x1="710.20" y1="734.50" x2="710.20" y2="741.50" stroke="#1a1a1a" stroke-width="1.6"/>
<text x="710.20" y="754.50" font-family="Liberation Sans" font-size="12.2" text-anchor="middle" fill="#111" >M+4</text>
<line x1="567.40" y1="571.80" x2="628.40" y2="571.80" stroke="#2a2a2a" stroke-width="1.7"/>
<path d="M593.35,569.00 L593.35,565.60 M593.35,569.00 L596.84,568.13 M593.35,569.00 L589.86,568.13 M593.35,569.00 L595.24,571.70 M593.35,569.00 L591.46,571.70 M601.25,569.00 L601.25,565.60 M601.25,569.00 L604.74,568.13 M601.25,569.00 L597.76,568.13 M601.25,569.00 L603.14,571.70 M601.25,569.00 L599.36,571.70" stroke="#111" stroke-width="1.75" fill="none"/>
<line x1="567.40" y1="586.40" x2="596.90" y2="586.40" stroke="#2a2a2a" stroke-width="1.7"/>
<path d="M573.70,582.70 L573.70,579.30 M573.70,582.70 L577.19,581.83 M573.70,582.70 L570.21,581.83 M573.70,582.70 L575.59,585.40 M573.70,582.70 L571.81,585.40 M581.60,582.70 L581.60,579.30 M581.60,582.70 L585.09,581.83 M581.60,582.70 L578.11,581.83 M581.60,582.70 L583.49,585.40 M581.60,582.70 L579.71,585.40 M589.50,582.70 L589.50,579.30 M589.50,582.70 L592.99,581.83 M589.50,582.70 L586.01,581.83 M589.50,582.70 L591.39,585.40 M589.50,582.70 L587.61,585.40" stroke="#111" stroke-width="1.75" fill="none"/>
<line x1="599.30" y1="607.10" x2="625.70" y2="607.10" stroke="#2a2a2a" stroke-width="1.7"/>
<path d="M611.80,603.10 L611.80,599.70 M611.80,603.10 L615.29,602.23 M611.80,603.10 L608.31,602.23 M611.80,603.10 L613.69,605.80 M611.80,603.10 L609.91,605.80" stroke="#111" stroke-width="1.75" fill="none"/>
<line x1="680.60" y1="664.60" x2="742.20" y2="664.60" stroke="#2a2a2a" stroke-width="1.7"/>
<text x="712.00" y="661.90" font-family="Liberation Sans" font-size="17" text-anchor="middle" fill="#111" >ns</text>
<line x1="680.60" y1="678.90" x2="710.80" y2="678.90" stroke="#2a2a2a" stroke-width="1.7"/>
<path d="M683.35,675.40 L683.35,672.00 M683.35,675.40 L686.84,674.53 M683.35,675.40 L679.86,674.53 M683.35,675.40 L685.24,678.10 M683.35,675.40 L681.46,678.10 M691.25,675.40 L691.25,672.00 M691.25,675.40 L694.74,674.53 M691.25,675.40 L687.76,674.53 M691.25,675.40 L693.14,678.10 M691.25,675.40 L689.36,678.10 M699.15,675.40 L699.15,672.00 M699.15,675.40 L702.64,674.53 M699.15,675.40 L695.66,674.53 M699.15,675.40 L701.04,678.10 M699.15,675.40 L697.26,678.10 M707.05,675.40 L707.05,672.00 M707.05,675.40 L710.54,674.53 M707.05,675.40 L703.56,674.53 M707.05,675.40 L708.94,678.10 M707.05,675.40 L705.16,678.10" stroke="#111" stroke-width="1.75" fill="none"/>
<line x1="714.80" y1="686.20" x2="741.80" y2="686.20" stroke="#2a2a2a" stroke-width="1.7"/>
<path d="M717.55,682.30 L717.55,678.90 M717.55,682.30 L721.04,681.43 M717.55,682.30 L714.06,681.43 M717.55,682.30 L719.44,685.00 M717.55,682.30 L715.66,685.00 M725.45,682.30 L725.45,678.90 M725.45,682.30 L728.94,681.43 M725.45,682.30 L721.96,681.43 M725.45,682.30 L727.34,685.00 M725.45,682.30 L723.56,685.00 M733.35,682.30 L733.35,678.90 M733.35,682.30 L736.84,681.43 M733.35,682.30 L729.86,681.43 M733.35,682.30 L735.24,685.00 M733.35,682.30 L731.46,685.00 M741.25,682.30 L741.25,678.90 M741.25,682.30 L744.74,681.43 M741.25,682.30 L737.76,681.43 M741.25,682.30 L743.14,685.00 M741.25,682.30 L739.36,685.00" stroke="#111" stroke-width="1.75" fill="none"/>
<text x="673.50" y="551.10" font-family="Liberation Serif" font-size="21" text-anchor="middle" fill="#000" >Malate</text>
<text transform="translate(525.00,659.90) rotate(-90)" x="0" y="0" font-family="Liberation Sans" font-size="17" text-anchor="middle" fill="#111">Fractional enrichment (<tspan dx="1.5">%</tspan><tspan dx="1.5">)</tspan></text>
<rect x="857.20" y="602.00" width="19.70" height="132.60" fill="#a3d1f7" stroke="#6f7d88" stroke-width="1"/>
<rect x="887.70" y="636.80" width="19.60" height="97.80" fill="#67b4ef" stroke="#50626f" stroke-width="1"/>
<rect x="917.70" y="619.70" width="19.80" height="114.90" fill="#fcc4de" stroke="#8a7e84" stroke-width="1"/>
<rect x="968.30" y="690.20" width="19.50" height="44.40" fill="#a3d1f7" stroke="#6f7d88" stroke-width="1"/>
<rect x="998.40" y="716.30" width="19.50" height="18.30" fill="#67b4ef" stroke="#50626f" stroke-width="1"/>
<rect x="1028.90" y="693.90" width="19.70" height="40.70" fill="#fcc4de" stroke="#8a7e84" stroke-width="1"/>
<line x1="867.05" y1="602.00" x2="867.05" y2="597.10" stroke="#666" stroke-width="1"/>
<line x1="862.05" y1="597.10" x2="872.05" y2="597.10" stroke="#666" stroke-width="1"/>
<line x1="867.05" y1="602.00" x2="867.05" y2="605.90" stroke="#666" stroke-width="1"/>
<line x1="862.05" y1="605.90" x2="872.05" y2="605.90" stroke="#666" stroke-width="1"/>
<line x1="897.50" y1="636.80" x2="897.50" y2="635.00" stroke="#666" stroke-width="1"/>
<line x1="892.50" y1="635.00" x2="902.50" y2="635.00" stroke="#666" stroke-width="1"/>
<line x1="927.60" y1="619.70" x2="927.60" y2="617.90" stroke="#666" stroke-width="1"/>
<line x1="922.60" y1="617.90" x2="932.60" y2="617.90" stroke="#666" stroke-width="1"/>
<line x1="978.05" y1="690.20" x2="978.05" y2="687.80" stroke="#666" stroke-width="1"/>
<line x1="973.05" y1="687.80" x2="983.05" y2="687.80" stroke="#666" stroke-width="1"/>
<line x1="978.05" y1="690.20" x2="978.05" y2="692.90" stroke="#666" stroke-width="1"/>
<line x1="973.05" y1="692.90" x2="983.05" y2="692.90" stroke="#666" stroke-width="1"/>
<line x1="1008.15" y1="716.30" x2="1008.15" y2="714.50" stroke="#666" stroke-width="1"/>
<line x1="1003.15" y1="714.50" x2="1013.15" y2="714.50" stroke="#666" stroke-width="1"/>
<line x1="1038.75" y1="693.90" x2="1038.75" y2="692.10" stroke="#666" stroke-width="1"/>
<line x1="1033.75" y1="692.10" x2="1043.75" y2="692.10" stroke="#666" stroke-width="1"/>
<circle cx="866.70" cy="599.00" r="3.2" fill="none" stroke="#383838" stroke-width="0.85"/>
<circle cx="874.00" cy="596.40" r="3.2" fill="none" stroke="#383838" stroke-width="0.85"/>
<circle cx="866.70" cy="609.70" r="3.2" fill="none" stroke="#383838" stroke-width="0.85"/>
<circle cx="896.90" cy="631.10" r="3.2" fill="none" stroke="#383838" stroke-width="0.85"/>
<circle cx="890.40" cy="639.10" r="3.2" fill="none" stroke="#383838" stroke-width="0.85"/>
<circle cx="904.20" cy="639.10" r="3.2" fill="none" stroke="#383838" stroke-width="0.85"/>
<circle cx="920.30" cy="620.00" r="3.2" fill="none" stroke="#383838" stroke-width="0.85"/>
<circle cx="927.50" cy="618.40" r="3.2" fill="none" stroke="#383838" stroke-width="0.85"/>
<circle cx="934.90" cy="619.30" r="3.2" fill="none" stroke="#383838" stroke-width="0.85"/>
<circle cx="977.40" cy="687.80" r="3.2" fill="none" stroke="#383838" stroke-width="0.85"/>
<circle cx="985.20" cy="686.60" r="3.2" fill="none" stroke="#383838" stroke-width="0.85"/>
<circle cx="977.40" cy="696.20" r="3.2" fill="none" stroke="#383838" stroke-width="0.85"/>
<circle cx="1008.10" cy="713.90" r="3.2" fill="none" stroke="#383838" stroke-width="0.85"/>
<circle cx="1015.40" cy="715.40" r="3.2" fill="none" stroke="#383838" stroke-width="0.85"/>
<circle cx="1001.50" cy="718.90" r="3.2" fill="none" stroke="#383838" stroke-width="0.85"/>
<circle cx="1038.20" cy="691.50" r="3.2" fill="none" stroke="#383838" stroke-width="0.85"/>
<circle cx="1031.60" cy="696.60" r="3.2" fill="none" stroke="#383838" stroke-width="0.85"/>
<circle cx="1045.30" cy="695.70" r="3.2" fill="none" stroke="#383838" stroke-width="0.85"/>
<line x1="846.80" y1="582.00" x2="846.80" y2="735.50" stroke="#1a1a1a" stroke-width="1.9"/>
<line x1="845.90" y1="734.60" x2="1059.50" y2="734.60" stroke="#1a1a1a" stroke-width="1.9"/>
<line x1="840.30" y1="734.60" x2="846.80" y2="734.60" stroke="#1a1a1a" stroke-width="1.6"/>
<text x="838.80" y="738.80" font-family="Liberation Sans" font-size="11.6" text-anchor="end" fill="#111" >0</text>
<line x1="840.30" y1="696.60" x2="846.80" y2="696.60" stroke="#1a1a1a" stroke-width="1.6"/>
<text x="838.80" y="700.80" font-family="Liberation Sans" font-size="11.6" text-anchor="end" fill="#111" >2</text>
<line x1="840.30" y1="658.80" x2="846.80" y2="658.80" stroke="#1a1a1a" stroke-width="1.6"/>
<text x="838.80" y="663.00" font-family="Liberation Sans" font-size="11.6" text-anchor="end" fill="#111" >4</text>
<line x1="840.30" y1="621.20" x2="846.80" y2="621.20" stroke="#1a1a1a" stroke-width="1.6"/>
<text x="838.80" y="625.40" font-family="Liberation Sans" font-size="11.6" text-anchor="end" fill="#111" >6</text>
<line x1="840.30" y1="582.90" x2="846.80" y2="582.90" stroke="#1a1a1a" stroke-width="1.6"/>
<text x="838.80" y="587.10" font-family="Liberation Sans" font-size="11.6" text-anchor="end" fill="#111" >8</text>
<line x1="897.50" y1="734.60" x2="897.50" y2="741.60" stroke="#1a1a1a" stroke-width="1.6"/>
<text x="897.50" y="754.60" font-family="Liberation Sans" font-size="12.2" text-anchor="middle" fill="#111" >M+2</text>
<line x1="1008.10" y1="734.60" x2="1008.10" y2="741.60" stroke="#1a1a1a" stroke-width="1.6"/>
<text x="1008.10" y="754.60" font-family="Liberation Sans" font-size="12.2" text-anchor="middle" fill="#111" >M+4</text>
<line x1="865.10" y1="571.80" x2="926.00" y2="571.80" stroke="#2a2a2a" stroke-width="1.7"/>
<path d="M894.90,568.60 L894.90,565.20 M894.90,568.60 L898.39,567.73 M894.90,568.60 L891.41,567.73 M894.90,568.60 L896.79,571.30 M894.90,568.60 L893.01,571.30" stroke="#111" stroke-width="1.75" fill="none"/>
<line x1="865.10" y1="586.40" x2="894.70" y2="586.40" stroke="#2a2a2a" stroke-width="1.7"/>
<path d="M871.30,582.70 L871.30,579.30 M871.30,582.70 L874.79,581.83 M871.30,582.70 L867.81,581.83 M871.30,582.70 L873.19,585.40 M871.30,582.70 L869.41,585.40 M879.20,582.70 L879.20,579.30 M879.20,582.70 L882.69,581.83 M879.20,582.70 L875.71,581.83 M879.20,582.70 L881.09,585.40 M879.20,582.70 L877.31,585.40 M887.10,582.70 L887.10,579.30 M887.10,582.70 L890.59,581.83 M887.10,582.70 L883.61,581.83 M887.10,582.70 L888.99,585.40 M887.10,582.70 L885.21,585.40" stroke="#111" stroke-width="1.75" fill="none"/>
<line x1="897.30" y1="607.10" x2="922.90" y2="607.10" stroke="#2a2a2a" stroke-width="1.7"/>
<path d="M910.00,603.10 L910.00,599.70 M910.00,603.10 L913.49,602.23 M910.00,603.10 L906.51,602.23 M910.00,603.10 L911.89,605.80 M910.00,603.10 L908.11,605.80" stroke="#111" stroke-width="1.75" fill="none"/>
<line x1="977.90" y1="660.10" x2="1039.50" y2="660.10" stroke="#2a2a2a" stroke-width="1.7"/>
<text x="1011.60" y="656.10" font-family="Liberation Sans" font-size="17" text-anchor="middle" fill="#111" >ns</text>
<line x1="978.30" y1="676.50" x2="1008.40" y2="676.50" stroke="#2a2a2a" stroke-width="1.7"/>
<path d="M984.80,672.60 L984.80,669.20 M984.80,672.60 L988.29,671.73 M984.80,672.60 L981.31,671.73 M984.80,672.60 L986.69,675.30 M984.80,672.60 L982.91,675.30 M992.70,672.60 L992.70,669.20 M992.70,672.60 L996.19,671.73 M992.70,672.60 L989.21,671.73 M992.70,672.60 L994.59,675.30 M992.70,672.60 L990.81,675.30 M1000.60,672.60 L1000.60,669.20 M1000.60,672.60 L1004.09,671.73 M1000.60,672.60 L997.11,671.73 M1000.60,672.60 L1002.49,675.30 M1000.60,672.60 L998.71,675.30" stroke="#111" stroke-width="1.75" fill="none"/>
<line x1="1010.30" y1="686.90" x2="1036.70" y2="686.90" stroke="#2a2a2a" stroke-width="1.7"/>
<path d="M1023.30,682.10 L1023.30,678.70 M1023.30,682.10 L1026.79,681.23 M1023.30,682.10 L1019.81,681.23 M1023.30,682.10 L1025.19,684.80 M1023.30,682.10 L1021.41,684.80" stroke="#111" stroke-width="1.75" fill="none"/>
<text x="970.20" y="551.60" font-family="Liberation Serif" font-size="21" text-anchor="middle" fill="#000" >Aspartic acid</text>
<text transform="translate(823.00,659.90) rotate(-90)" x="0" y="0" font-family="Liberation Sans" font-size="17" text-anchor="middle" fill="#111">Fractional enrichment (<tspan dx="1.5">%</tspan><tspan dx="1.5">)</tspan></text>
<rect x="1003.5" y="65.2" width="24.4" height="8.3" fill="#a3d1f7" stroke="#777" stroke-width="1"/>
<text x="1036.50" y="73.60" font-family="Liberation Serif" font-size="16" text-anchor="start" fill="#000" >Complete medium</text>
<rect x="1003.5" y="87.9" width="24.4" height="8.3" fill="#67b4ef" stroke="#777" stroke-width="1"/>
<text x="1036.50" y="96.30" font-family="Liberation Serif" font-size="16" text-anchor="start" fill="#000" >Met-free</text>
<rect x="1003.5" y="111.2" width="24.4" height="8.3" fill="#fcc4de" stroke="#777" stroke-width="1"/>
<text x="1036.50" y="119.60" font-family="Liberation Serif" font-size="16" text-anchor="start" fill="#000" >Met-free+Met</text>
</svg></body></html>
